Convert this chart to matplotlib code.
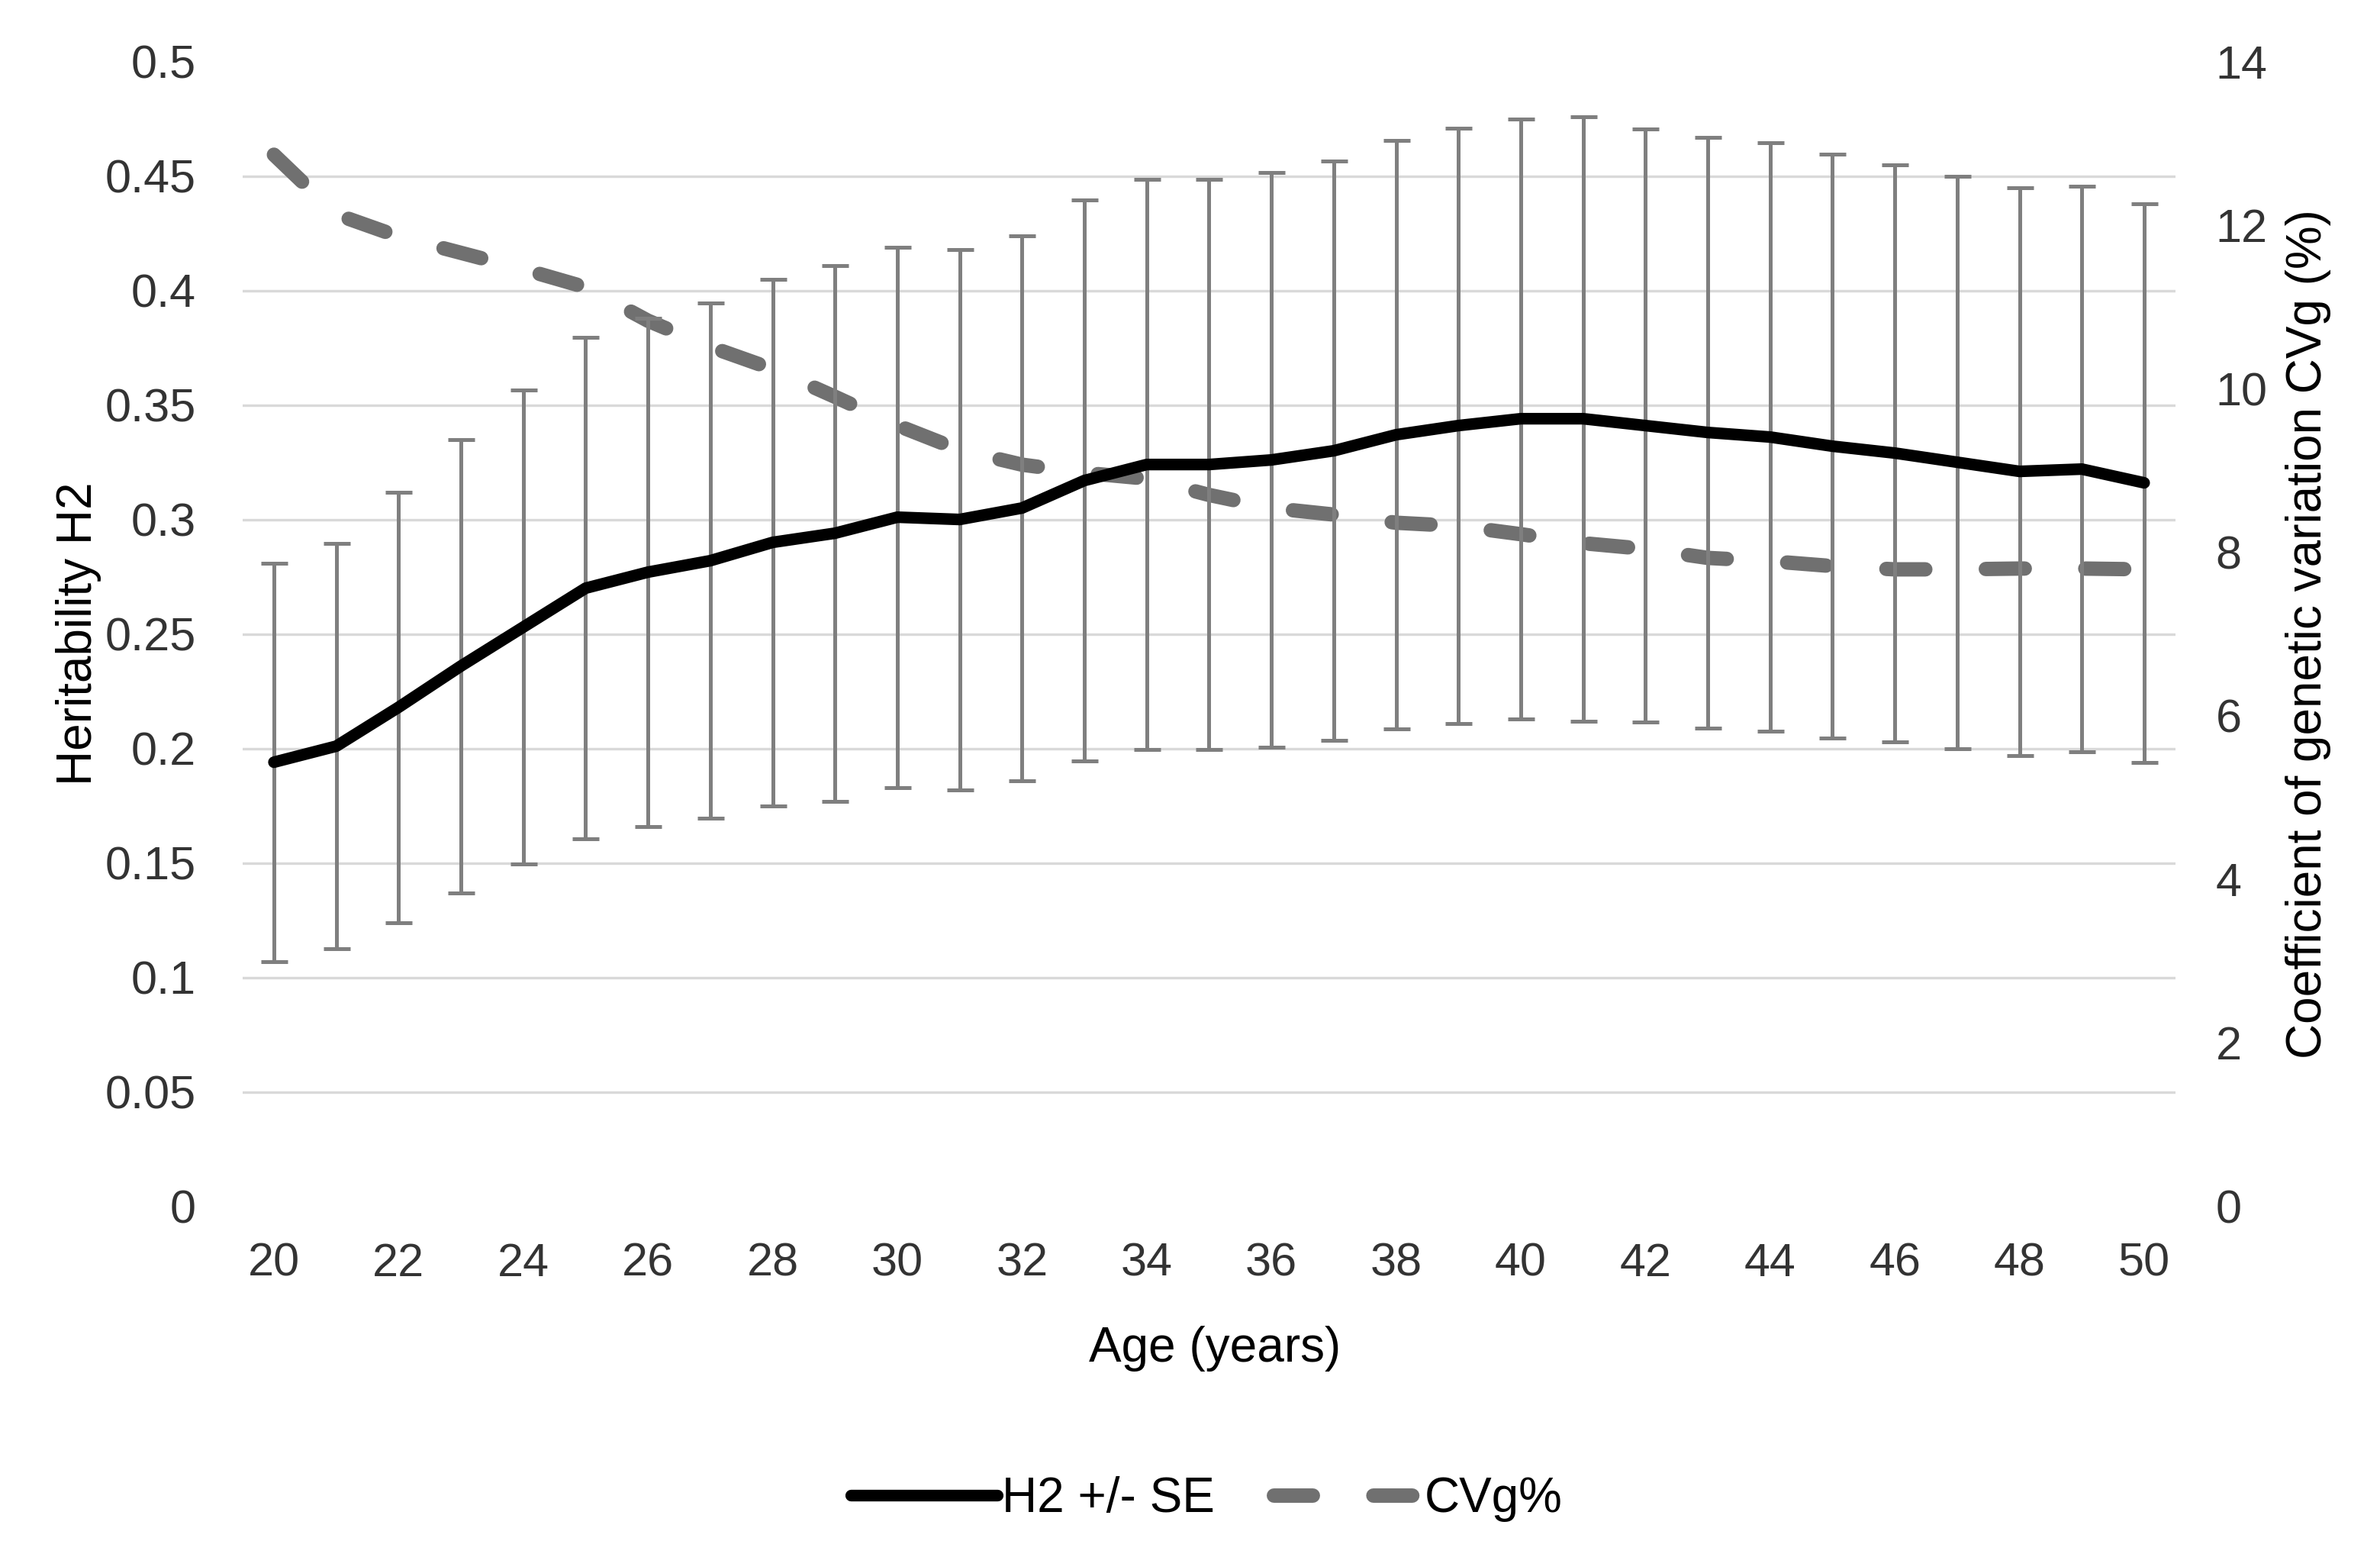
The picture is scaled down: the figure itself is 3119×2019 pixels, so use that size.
import numpy as np
import matplotlib
matplotlib.use('Agg')
import matplotlib.pyplot as plt
from matplotlib.ticker import FuncFormatter

plt.rcParams['font.family'] = ['Liberation Sans', 'DejaVu Sans']

## data
age = [20, 21, 22, 23, 24, 25, 26, 27, 28, 29, 30, 31, 32, 33, 34, 35,
       36, 37, 38, 39, 40, 41, 42, 43, 44, 45, 46, 47, 48, 49, 50]
h2 = [0.194, 0.201, 0.218, 0.236, 0.253, 0.270, 0.277, 0.282, 0.290, 0.294,
      0.301, 0.300, 0.305, 0.317, 0.324, 0.324, 0.326, 0.330, 0.337, 0.341,
      0.344, 0.344, 0.341, 0.338, 0.336, 0.332, 0.329, 0.325, 0.321, 0.322, 0.316]
se = [0.087, 0.0885, 0.094, 0.099, 0.1035, 0.1095, 0.111, 0.1125, 0.115, 0.117,
      0.118, 0.118, 0.119, 0.1225, 0.1245, 0.1245, 0.1255, 0.1265, 0.1285, 0.130,
      0.131, 0.132, 0.1295, 0.129, 0.1285, 0.1275, 0.126, 0.125, 0.124, 0.1235, 0.122]
cvg = [12.86, 12.13, 11.86, 11.66, 11.46, 11.24, 10.83, 10.51, 10.24, 9.90,
       9.55, 9.25, 9.07, 8.97, 8.90, 8.70, 8.54, 8.46, 8.36, 8.32,
       8.22, 8.11, 8.04, 7.93, 7.89, 7.83, 7.79, 7.79, 7.80, 7.80, 7.79]

left_ticks = [0, 0.05, 0.1, 0.15, 0.2, 0.25, 0.3, 0.35, 0.4, 0.45, 0.5]
right_ticks = [0, 2, 4, 6, 8, 10, 12, 14]
x_ticks = [20, 22, 24, 26, 28, 30, 32, 34, 36, 38, 40, 42, 44, 46, 48, 50]

FS_TICK = 22
FS_LAB = 23
TXT = '#333333'

fig = plt.figure(figsize=(15.595, 10.095), dpi=200)
ax = fig.add_axes([0.102, 0.2171, 0.812, 0.743])
ax2 = ax.twinx()
# error bars / H2 line drawn over the dashed CVg line
ax.set_zorder(ax2.get_zorder() + 1)
ax.patch.set_visible(False)

# CVg on the secondary axis
cv_line, = ax2.plot(age, cvg, color='#707070', lw=6.8, dashes=(2.7, 4.2),
                    dash_capstyle='round', solid_capstyle='round', label='CVg%')
ax2.set_ylim(0, 14)
ax2.set_yticks(right_ticks)
# gridlines follow the left axis steps (0.05 -> 1.4)
ax2.set_yticks([i * 1.4 for i in range(11)], minor=True)
ax2.grid(which='minor', axis='y', color='#d9d9d9', lw=1.2)
ax2.tick_params(axis='y', which='both', length=0, labelsize=FS_TICK,
                labelcolor=TXT, pad=19)
ax2.set_ylabel('Coefficient of genetic variation CVg (%)', fontsize=FS_LAB, color='black')
ax2.yaxis.set_label_coords(1.057, 0.5)

# H2 with SE bars
ax.errorbar(age, h2, yerr=se, fmt='none', ecolor='#7f7f7f', elinewidth=1.8,
            capsize=6.3, capthick=1.8)
h2_line, = ax.plot(age, h2, color='black', lw=5.5, solid_capstyle='round',
                   label='H2 +/- SE')
ax.set_ylim(0, 0.5)
ax.set_yticks(left_ticks)
ax.yaxis.set_major_formatter(FuncFormatter(lambda v, p: f'{v:g}'))
ax.set_xlim(19.5, 50.5)
ax.set_xticks(x_ticks)
ax.tick_params(axis='both', length=0, labelsize=FS_TICK, labelcolor=TXT)
ax.tick_params(axis='y', pad=22)
ax.tick_params(axis='x', pad=17)
ax.set_ylabel('Heritability H2', fontsize=FS_LAB, color='black')
ax.yaxis.set_label_coords(-0.073, 0.5)
ax.set_xlabel('Age (years)', fontsize=FS_LAB, color='black')
ax.xaxis.set_label_coords(0.503, -0.104)

for a in (ax, ax2):
    for s in a.spines.values():
        s.set_visible(False)

fig.legend(handles=[h2_line, cv_line], loc='center', bbox_to_anchor=(0.507, 0.027),
           ncol=2, frameon=False, fontsize=FS_LAB, handlelength=3.0,
           handletextpad=0.1, columnspacing=1.2)

fig.savefig('out.png', dpi=200)
